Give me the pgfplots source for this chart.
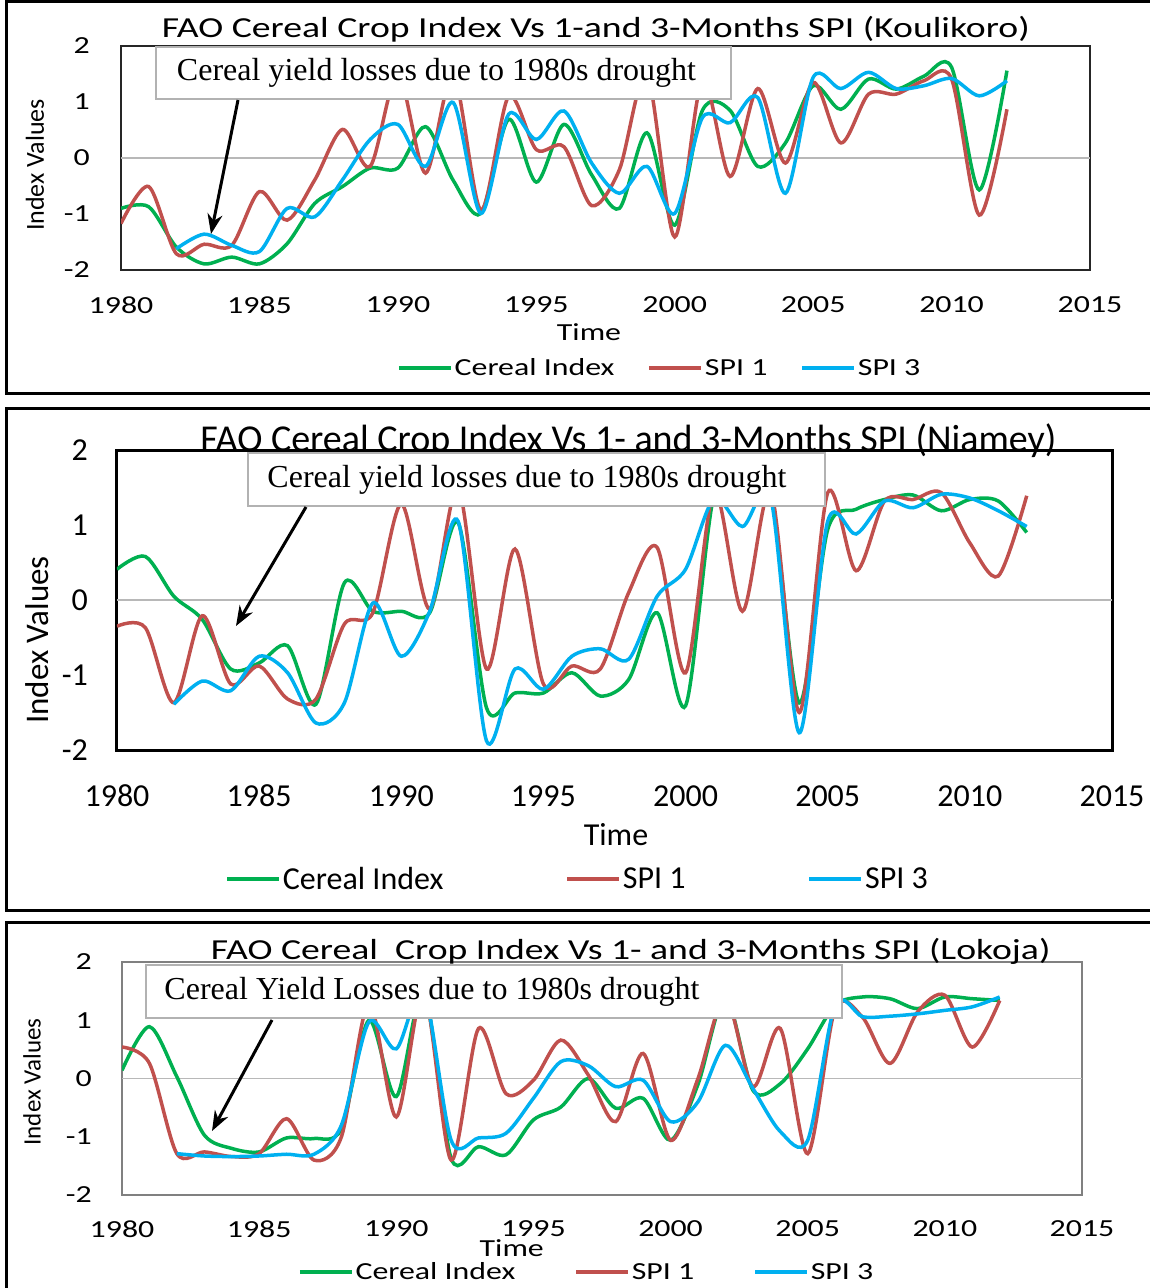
\documentclass[border=0pt]{standalone}
\usepackage{pgfplots}
\pgfplotsset{compat=1.18}
\usepackage{pgfplotstable}
\usetikzlibrary{arrows.meta}
\usepackage{fontspec}
\setmainfont{Carlito}
\newfontfamily\fwide[FakeStretch=1.3]{Carlito}
\newfontfamily\tnr{Liberation Serif}
\newcommand\fs[1]{\fontsize{#1}{#1}\selectfont}
\definecolor{cgreen}{RGB}{0,176,80}
\definecolor{cred}{RGB}{192,80,77}
\definecolor{cblue}{RGB}{0,176,240}

\pgfplotstableread{
year g r b
1980 -0.90 -1.17 nan
1981 -0.87 -0.51 nan
1982 -1.59 -1.71 -1.62
1983 -1.89 -1.54 -1.36
1984 -1.77 -1.56 -1.56
1985 -1.89 -0.60 -1.67
1986 -1.53 -1.11 -0.90
1987 -0.81 -0.39 -1.05
1988 -0.51 0.51 -0.39
1989 -0.18 -0.15 0.33
1990 -0.18 1.50 0.60
1991 0.56 -0.27 -0.15
1992 -0.40 1.50 0.99
1993 -0.99 -0.93 -0.99
1994 0.69 1.10 0.78
1995 -0.43 0.15 0.33
1996 0.60 0.20 0.84
1997 -0.30 -0.85 -0.09
1998 -0.90 -0.21 -0.63
1999 0.45 1.50 -0.15
2000 -1.20 -1.41 -0.99
2001 0.85 1.40 0.72
2002 0.85 -0.33 0.63
2003 -0.15 1.24 1.08
2004 0.27 -0.09 -0.63
2005 1.29 1.35 1.44
2006 0.87 0.27 1.24
2007 1.41 1.14 1.53
2008 1.23 1.14 1.24
2009 1.46 1.38 1.29
2010 1.62 1.41 1.42
2011 -0.57 -1.02 1.11
2012 1.56 0.87 1.38
}\koulikoro

\pgfplotstableread{
year g r b
1980 0.41 -0.35 nan
1981 0.58 -0.37 nan
1982 0.05 -1.37 -1.39
1983 -0.26 -0.21 -1.08
1984 -0.92 -1.12 -1.21
1985 -0.84 -0.88 -0.75
1986 -0.61 -1.32 -0.97
1987 -1.39 -1.32 -1.64
1988 0.23 -0.32 -1.37
1989 -0.15 -0.17 -0.04
1990 -0.15 1.28 -0.75
1991 -0.17 -0.12 -0.15
1992 1.03 1.50 1.05
1993 -1.44 -0.92 -1.88
1994 -1.24 0.68 -0.92
1995 -1.24 -1.12 -1.19
1996 -0.97 -0.88 -0.75
1997 -1.28 -0.92 -0.65
1998 -1.06 0.10 -0.79
1999 -0.17 0.70 0.05
2000 -1.41 -0.97 0.41
2001 1.40 1.45 1.35
2002 1.30 -0.15 0.98
2003 1.40 1.45 1.35
2004 -1.37 -1.50 -1.77
2005 0.94 1.43 1.05
2006 1.21 0.39 0.88
2007 1.34 1.32 1.32
2008 1.40 1.34 1.23
2009 1.19 1.43 1.41
2010 1.34 0.76 1.36
2011 1.32 0.32 1.19
2012 0.90 1.39 0.98
}\niamey

\pgfplotstableread{
year g r b
1980 0.14 0.54 nan
1981 0.89 0.26 nan
1982 0.03 -1.29 -1.29
1983 -0.97 -1.26 -1.33
1984 -1.20 -1.34 -1.34
1985 -1.26 -1.29 -1.33
1986 -1.02 -0.69 -1.30
1987 -1.03 -1.40 -1.30
1988 -0.86 -1.00 -0.80
1989 1.00 1.30 0.97
1990 -0.31 -0.66 0.51
1991 1.50 1.50 1.50
1992 -1.37 -1.40 -1.06
1993 -1.17 0.86 -1.02
1994 -1.31 -0.26 -0.94
1995 -0.71 -0.03 -0.34
1996 -0.49 0.66 0.29
1997 0.00 0.06 0.22
1998 -0.51 -0.74 -0.14
1999 -0.34 0.43 -0.03
2000 -1.06 -1.06 -0.74
2001 -0.10 0.00 -0.40
2002 1.40 1.40 0.57
2003 -0.20 -0.14 -0.17
2004 -0.09 0.86 -0.91
2005 0.51 -1.29 -1.06
2006 1.26 1.20 1.26
2007 1.40 1.05 1.06
2008 1.37 0.26 1.07
2009 1.20 1.14 1.11
2010 1.40 1.43 1.17
2011 1.37 0.54 1.23
2012 1.34 1.34 1.40
}\lokoja

\pgfplotsset{
  base/.style={
    scale only axis, anchor=south west,
    xmin=1980, xmax=2015, ymin=-2, ymax=2,
    xtick={1980,1985,...,2015},
    xticklabels={1980,1985,1990,1995,2000,2005,2010,2015},
    ytick={-2,-1,0,1,2}, yticklabels={-2,-1,0,1,2},
    major tick length=0pt,
    extra y ticks={0}, extra y tick labels={},
    extra y tick style={grid=major, major grid style={draw=black!28, line width=1.2pt}},
    legend columns=3,
    legend image code/.code={\draw[##1,line width=3.5pt] (0pt,0pt) -- (52pt,0pt);},
    legend cell align=left,
    unbounded coords=discard,
  },
  sg/.style={draw=cgreen, line width=3.5pt, smooth, no markers},
  sr/.style={draw=cred, line width=3.5pt, smooth, no markers},
  sb/.style={draw=cblue, line width=3.5pt, smooth, no markers},
}

\begin{document}
\begin{tikzpicture}
\useasboundingbox (0pt,0pt) rectangle (1149pt,-1288pt);
% panel frames
\draw[line width=3pt] (6pt,-1.5pt) rectangle (1160pt,-393pt);
\draw[line width=3pt] (6pt,-408pt) rectangle (1160pt,-910pt);
\draw[line width=3pt] (6pt,-922pt) rectangle (1160pt,-1300pt);

% ---------------- Panel 1: Koulikoro
\begin{axis}[base,
  at={(121pt,-270pt)}, width=969pt, height=224pt,
  axis line style={line width=2pt, black!85},
  xticklabel style={font=\fwide\fs{24.5}, anchor=center, yshift=-35pt},
  yticklabel style={font=\fwide\fs{24.5}, anchor=east, inner sep=0pt, xshift=-31pt},
  title={FAO Cereal Crop Index Vs 1-and 3-Months SPI (Koulikoro)},
  title style={at={(axis description cs:0.490,1.013)}, anchor=base, inner sep=0pt, font=\fwide\fs{29}},
  xlabel={Time},
  xlabel style={at={(axis description cs:0.483,-0.277)}, anchor=center, font=\fwide\fs{24.5}},
  ylabel={Index Values},
  ylabel style={at={(axis description cs:-0.0888,0.469)}, anchor=center, font=\fs{26}},
  legend style={at={(0.556,-0.4375)}, anchor=center, draw=none, fill=none, font=\fwide\fs{24.5},
    /tikz/every even column/.append style={column sep=31pt}},
]
\addplot[sg] table[x=year,y=g] {\koulikoro};
\addplot[sr] table[x=year,y=r] {\koulikoro};
\addplot[sb] table[x=year,y=b] {\koulikoro};
\legend{Cereal Index, SPI 1, SPI 3}
\end{axis}

% ---------------- Panel 2: Niamey
\begin{axis}[base,
  at={(117pt,-750pt)}, width=995pt, height=300pt,
  axis line style={line width=3pt, black},
  xticklabel style={font=\fs{32}, anchor=center, yshift=-46pt},
  yticklabel style={font=\fs{32}, anchor=east, inner sep=0pt, xshift=-29pt},
  title={FAO Cereal Crop Index Vs 1- and 3-Months SPI (Niamey)},
  title style={at={(axis description cs:0.514,0.976)}, anchor=base, inner sep=0pt, font=\fs{38}},
  xlabel={Time},
  xlabel style={at={(axis description cs:0.5015,-0.283)}, anchor=center, font=\fs{32}},
  ylabel={Index Values},
  ylabel style={at={(axis description cs:-0.0804,0.367)}, anchor=center, font=\fs{33}},
  legend style={at={(0.463,-0.43)}, anchor=center, draw=none, fill=none, font=\fs{32},
    /tikz/every even column/.append style={column sep=120pt}},
]
\addplot[sg] table[x=year,y=g] {\niamey};
\addplot[sr] table[x=year,y=r] {\niamey};
\addplot[sb] table[x=year,y=b] {\niamey};
\legend{Cereal Index, SPI 1, SPI 3}
\end{axis}

% ---------------- Panel 3: Lokoja
\begin{axis}[base,
  at={(122pt,-1195pt)}, width=960pt, height=233pt,
  axis line style={line width=2pt, black!50},
  xticklabel style={font=\fwide\fs{24.5}, anchor=center, yshift=-34pt},
  yticklabel style={font=\fwide\fs{24.5}, anchor=east, inner sep=0pt, xshift=-30pt},
  title={FAO Cereal\ \ Crop Index Vs 1- and 3-Months SPI (Lokoja)},
  title style={at={(axis description cs:0.530,0.987)}, anchor=base, inner sep=0pt, font=\fwide\fs{29}},
  xlabel={Time},
  xlabel style={at={(axis description cs:0.406,-0.2275)}, anchor=center, font=\fwide\fs{24.5}},
  ylabel={Index Values},
  ylabel style={at={(axis description cs:-0.09375,0.485)}, anchor=center, font=\fs{25}},
  legend style={at={(0.484,-0.33)}, anchor=center, draw=none, fill=none, font=\fwide\fs{24.5},
    /tikz/every even column/.append style={column sep=57pt}},
]
\addplot[sg] table[x=year,y=g] {\lokoja};
\addplot[sr] table[x=year,y=r] {\lokoja};
\addplot[sb] table[x=year,y=b] {\lokoja};
\legend{Cereal Index, SPI 1, SPI 3}
\end{axis}

% annotation boxes and arrows
\filldraw[fill=white, draw=black!30, line width=2pt] (156pt,-47pt) rectangle (731pt,-99pt);
\node[font=\tnr\fs{32}, anchor=center] at (436.5pt,-73pt) {Cereal yield losses due to 1980s drought};
\draw[line width=3pt, -{Stealth[length=20pt,width=15pt]}] (238pt,-100pt) -- (211pt,-234pt);

\filldraw[fill=white, draw=black!30, line width=2pt] (248pt,-453pt) rectangle (825pt,-506pt);
\node[font=\tnr\fs{32}, anchor=center] at (527pt,-480pt) {Cereal yield losses due to 1980s drought};
\draw[line width=3pt, -{Stealth[length=20pt,width=15pt]}] (306pt,-507pt) -- (236pt,-626pt);

\filldraw[fill=white, draw=black!30, line width=2pt] (146pt,-965pt) rectangle (842pt,-1018pt);
\node[font=\tnr\fs{32}, anchor=center] at (432pt,-992pt) {Cereal Yield Losses due to 1980s drought};
\draw[line width=3pt, -{Stealth[length=20pt,width=15pt]}] (272pt,-1020pt) -- (212pt,-1131pt);
\end{tikzpicture}
\end{document}
